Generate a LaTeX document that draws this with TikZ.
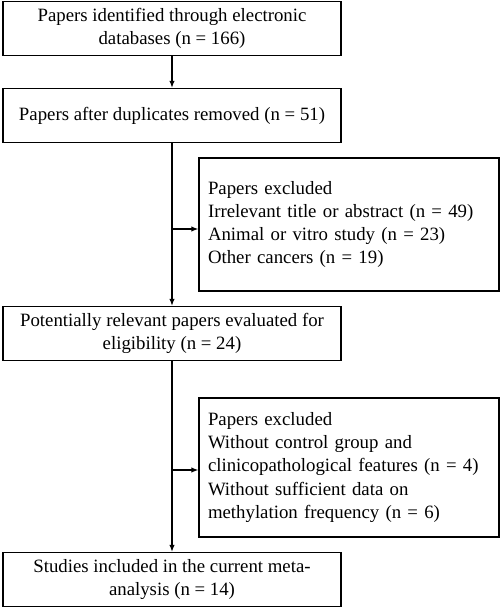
\documentclass[tikz,border=0pt]{standalone}
\usepackage{fontspec}
\setmainfont{Liberation Serif}
\usetikzlibrary{arrows.meta}
\tikzset{>={Latex[length=7pt,width=5.5pt]}}

\begin{document}
\begin{tikzpicture}[
    x = 1pt, y = -1pt,
    box/.style = {draw, line width = 1.4pt, align = center, minimum width = 338pt, minimum height = 54pt, inner sep = 0pt, font = \fontsize{18.8}{23.3}\selectfont},
    exbox/.style = {draw, line width = 1.4pt, align = left, text width = 282pt, inner xsep = 9pt, inner ysep = 0pt, font = \fontsize{18.8}{23.3}\selectfont},
    ln/.style = {line width = 1.2pt},
]
\useasboundingbox (0,0) rectangle (500,612);

\node[box] (ident) at (172,28.5) {Papers identified through electronic\\databases (n = 166)};
\node[box] (dup) at (172,115.5) {Papers after duplicates removed (n = 51)};
\node[exbox, minimum height = 133pt] (excl1) at (349,224.5) {Papers excluded\\Irrelevant title or abstract (n = 49)\\Animal or vitro study (n = 23)\\Other cancers (n = 19)};
\node[box] (elig) at (172,333.5) {Potentially relevant papers evaluated for\\eligibility (n = 24)};
\node[exbox, minimum height = 139pt] (excl2) at (349,467.5) {Papers excluded\\Without control group and\\clinicopathological features (n = 4)\\Without sufficient data on\\methylation frequency (n = 6)};
\node[box] (incl) at (172,579.5) {Studies included in the current meta-\\analysis (n = 14)};

\coordinate (b1) at (172,229);
\coordinate (b2) at (172,470);

\draw[ln, ->] (ident) -- (dup);
\draw[ln, ->] (dup) -- (elig);
\draw[ln, ->] (elig) -- (incl);
\draw[ln, ->] (b1) -- (b1 -| excl1.west);
\draw[ln, ->] (b2) -- (b2 -| excl2.west);

\end{tikzpicture}
\end{document}
